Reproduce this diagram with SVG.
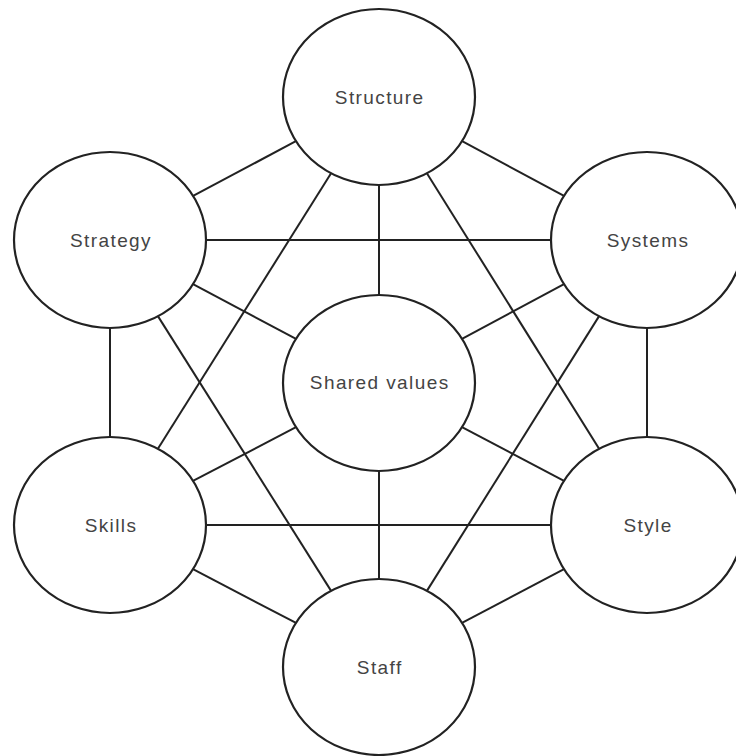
<svg xmlns="http://www.w3.org/2000/svg" width="736" height="756" viewBox="0 0 736 756">
  <style>
    .node { fill: #ffffff; stroke: #222222; stroke-width: 2.2; }
    .edge { stroke: #222222; stroke-width: 2; fill: none; }
    .label { font-family: "Liberation Sans", Arial, sans-serif; font-size: 19px; letter-spacing: 1.4px; fill: #444444; text-anchor: middle; }
  </style>
  <rect x="0" y="0" width="736" height="756" fill="#ffffff"/>
  <g id="connectors">
    <line class="edge" x1="295.9" y1="141.2" x2="193.1" y2="195.9"/>
    <line class="edge" x1="462.1" y1="141.2" x2="564" y2="195.9"/>
    <line class="edge" x1="379" y1="185" x2="379" y2="295"/>
    <line class="edge" x1="331.1" y1="173.3" x2="157.9" y2="448.7"/>
    <line class="edge" x1="426.9" y1="173.3" x2="599.1" y2="448.7"/>
    <line class="edge" x1="206" y1="240" x2="551" y2="240"/>
    <line class="edge" x1="193" y1="284.2" x2="296" y2="338.9"/>
    <line class="edge" x1="110" y1="328" x2="110" y2="437"/>
    <line class="edge" x1="157.9" y1="316.1" x2="331.1" y2="590.9"/>
    <line class="edge" x1="564" y1="284.2" x2="462" y2="338.9"/>
    <line class="edge" x1="647" y1="328" x2="647" y2="437"/>
    <line class="edge" x1="599.1" y1="316.1" x2="426.9" y2="590.9"/>
    <line class="edge" x1="296" y1="427.2" x2="193" y2="480.9"/>
    <line class="edge" x1="462" y1="427.2" x2="564" y2="480.9"/>
    <line class="edge" x1="379" y1="471" x2="379" y2="579"/>
    <line class="edge" x1="206" y1="525" x2="551" y2="525"/>
    <line class="edge" x1="193" y1="569.2" x2="296" y2="622.9"/>
    <line class="edge" x1="564" y1="569.2" x2="462" y2="622.9"/>
  </g>
  <g id="structure">
    <ellipse class="node" cx="379" cy="97" rx="96" ry="88"/>
    <text class="label" x="379.7" y="104">Structure</text>
  </g>
  <g id="strategy">
    <ellipse class="node" cx="110" cy="240" rx="96" ry="88"/>
    <text class="label" x="111" y="247">Strategy</text>
  </g>
  <g id="systems">
    <ellipse class="node" cx="647" cy="240" rx="96" ry="88"/>
    <text class="label" x="648" y="247">Systems</text>
  </g>
  <g id="shared-values">
    <ellipse class="node" cx="379" cy="383" rx="96" ry="88"/>
    <text class="label" x="379.7" y="389">Shared values</text>
  </g>
  <g id="skills">
    <ellipse class="node" cx="110" cy="525" rx="96" ry="88"/>
    <text class="label" x="111" y="532">Skills</text>
  </g>
  <g id="style">
    <ellipse class="node" cx="647" cy="525" rx="96" ry="88"/>
    <text class="label" x="648" y="532">Style</text>
  </g>
  <g id="staff">
    <ellipse class="node" cx="379" cy="667" rx="96" ry="88"/>
    <text class="label" x="379.7" y="674">Staff</text>
  </g>
</svg>
